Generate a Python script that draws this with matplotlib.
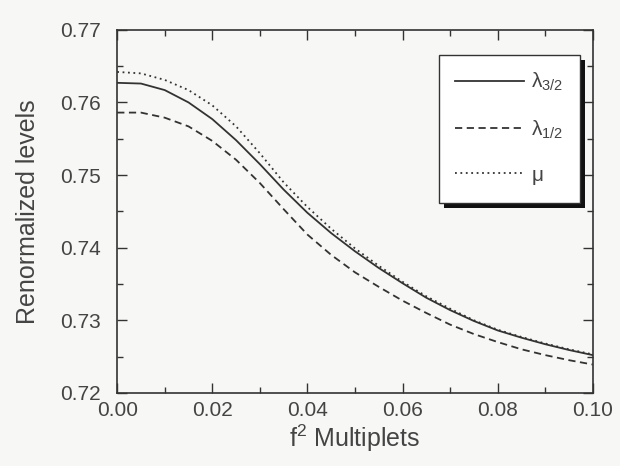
import matplotlib
matplotlib.use("Agg")
import matplotlib.pyplot as plt
from matplotlib.ticker import MultipleLocator, FormatStrFormatter
from matplotlib.patches import Rectangle
from matplotlib.transforms import IdentityTransform

# f^2 values
f2 = [0.000, 0.005, 0.010, 0.015, 0.020, 0.025, 0.030, 0.035, 0.040, 0.045,
      0.050, 0.055, 0.060, 0.065, 0.070, 0.075, 0.080, 0.085, 0.090, 0.095, 0.100]

lambda_32 = [0.7627, 0.7626, 0.7617, 0.7600, 0.7577, 0.7548, 0.7515, 0.7480, 0.7448, 0.7420,
             0.7395, 0.7372, 0.7351, 0.7331, 0.7314, 0.7299, 0.7286, 0.7276, 0.7267, 0.7259, 0.7252]

lambda_12 = [0.7586, 0.7586, 0.7579, 0.7567, 0.7547, 0.7521, 0.7489, 0.7453, 0.7418, 0.7390,
             0.7366, 0.7346, 0.7327, 0.7310, 0.7294, 0.7281, 0.7270, 0.7260, 0.7252, 0.7245, 0.7239]

mu = [0.7642, 0.7640, 0.7631, 0.7617, 0.7596, 0.7567, 0.7530, 0.7490, 0.7456, 0.7426,
      0.7399, 0.7375, 0.7353, 0.7333, 0.7316, 0.7300, 0.7287, 0.7277, 0.7268, 0.7260, 0.7253]

labels = [r'$\lambda_{3/2}$', r'$\lambda_{1/2}$', r'$\mu$']

plt.rcParams['font.family'] = ['Liberation Sans', 'DejaVu Sans']
plt.rcParams['mathtext.fontset'] = 'custom'
plt.rcParams['mathtext.rm'] = 'Liberation Sans'
plt.rcParams['mathtext.it'] = 'Liberation Sans'
plt.rcParams['mathtext.bf'] = 'Liberation Sans:bold'

bg = '#f7f7f5'
ink = '#333333'
txt = '#444444'

fig = plt.figure(figsize=(6.2, 4.66), dpi=100, facecolor=bg)
ax = fig.add_axes([0.189, 0.157, 0.767, 0.779], facecolor=bg)

ax.plot(f2, lambda_32, '-', color=ink, lw=1.3, label=labels[0])
ax.plot(f2, lambda_12, '--', color=ink, lw=1.3, dashes=(4, 2.5), label=labels[1])
ax.plot(f2, mu, ':', color=ink, lw=1.3, dashes=(1, 2), label=labels[2])

ax.set_xlim(0.0, 0.10)
ax.set_ylim(0.72, 0.77)
ax.xaxis.set_major_locator(MultipleLocator(0.02))
ax.xaxis.set_minor_locator(MultipleLocator(0.01))
ax.yaxis.set_major_locator(MultipleLocator(0.01))
ax.yaxis.set_minor_locator(MultipleLocator(0.005))
ax.xaxis.set_major_formatter(FormatStrFormatter('%.2f'))
ax.yaxis.set_major_formatter(FormatStrFormatter('%.2f'))

ax.tick_params(which='both', direction='in', top=True, right=True, colors=ink,
               labelcolor=txt, labelsize=15, width=1.0)
ax.tick_params(which='major', length=7)
ax.tick_params(which='minor', length=4)
ax.tick_params(axis='y', which='major', pad=12)
ax.tick_params(axis='x', which='major', pad=6)
for s in ax.spines.values():
    s.set_color(ink)
    s.set_linewidth(1.2)

ax.set_xlabel(r'f$^{2}$ Multiplets', fontsize=18, color=txt, labelpad=2)
ax.set_ylabel('Renormalized levels', fontsize=18, color=txt, labelpad=14)

leg = ax.legend(loc='upper right', bbox_to_anchor=(0.973, 0.932), fontsize=15,
                handlelength=3.3, handletextpad=0.35, labelspacing=1.2,
                borderpad=0.8, borderaxespad=0.0, fancybox=False, frameon=True,
                framealpha=1.0, shadow=False)
leg.get_frame().set_edgecolor(ink)
leg.get_frame().set_facecolor('white')
leg.get_frame().set_linewidth(1.0)
for t in leg.get_texts():
    t.set_color(txt)

# solid drop shadow offset down-right, as in the reference
fig.canvas.draw()
bb = leg.get_window_extent()
shadow = Rectangle((bb.x0 + 5, bb.y0 - 5), bb.width, bb.height,
                   transform=IdentityTransform(), facecolor='#111111',
                   edgecolor='none', zorder=4.9)
ax.add_artist(shadow)

fig.savefig('out.png', dpi=100, facecolor=bg)
